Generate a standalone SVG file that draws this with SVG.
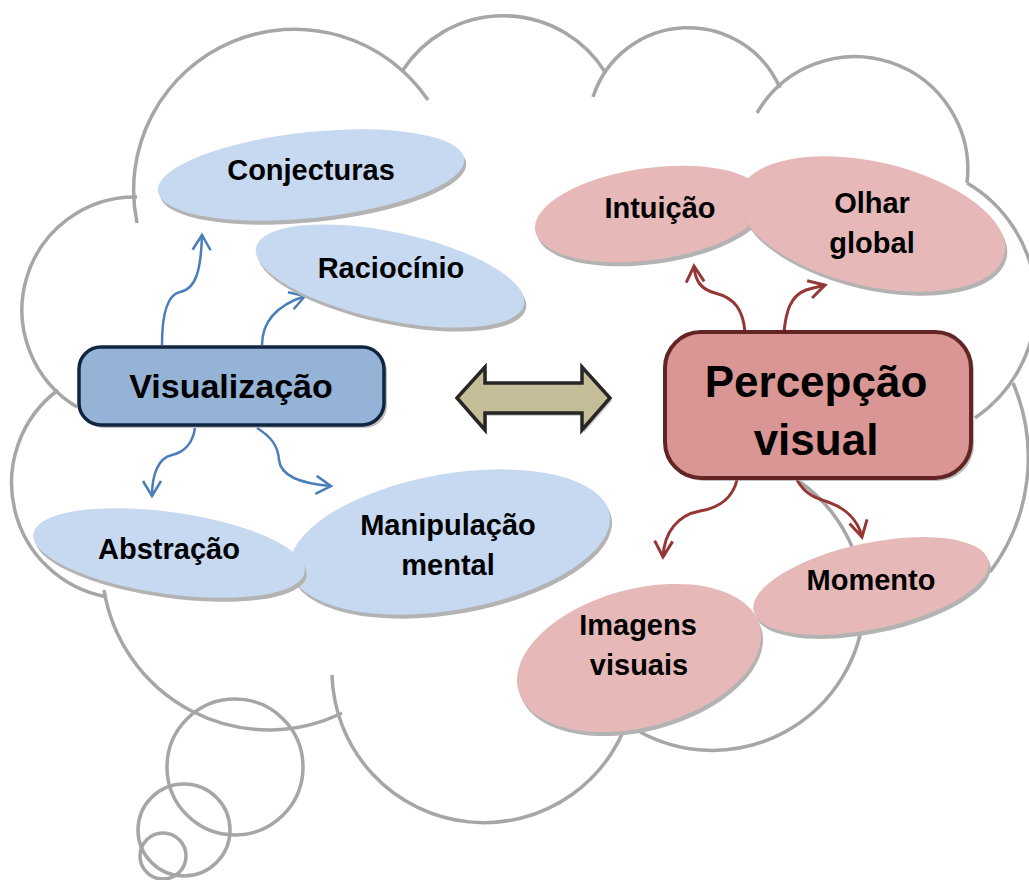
<svg xmlns="http://www.w3.org/2000/svg" width="1029" height="880" viewBox="0 0 1029 880">
<style>
.cloud{fill:none;stroke:#a6a6a6;stroke-width:3.5}
.sh{fill:#b3b3b3}
.be{fill:#c6d9f1}
.re{fill:#e6b9b8}
.t{font-family:"Liberation Sans",Arial,sans-serif;font-weight:bold;fill:#000;text-anchor:middle}
.st{font-size:29px}
.ba{fill:none;stroke:#4a7ebb;stroke-width:2.5}
.ra{fill:none;stroke:#953735;stroke-width:3}
.bsh{fill:#8c8c8c;opacity:0.55}
</style>
<defs>
<marker id="mb" markerUnits="userSpaceOnUse" viewBox="-20 -12 24 24" markerWidth="24" markerHeight="24" refX="0" refY="0" orient="auto"><path d="M-15,-9 L0,0 L-15,9" fill="none" stroke="#4a7ebb" stroke-width="2.5"/></marker>
<marker id="mr" markerUnits="userSpaceOnUse" viewBox="-20 -12 24 24" markerWidth="24" markerHeight="24" refX="0" refY="0" orient="auto"><path d="M-16,-9 L0,0 L-16,9" fill="none" stroke="#953735" stroke-width="3"/></marker>
</defs>
<rect width="1029" height="880" fill="#fff"/>
<g id="cloud">
<path class="cloud" d="M137,223 A161,161 0 0 1 428,100"/>
<path class="cloud" d="M403,70 A120,120 0 0 1 605,72"/>
<path class="cloud" d="M593,97 A100,100 0 0 1 780,88"/>
<path class="cloud" d="M757,113 A113,113 0 0 1 967,183"/>
<path class="cloud" d="M967,183 A139,139 0 0 1 975,418"/>
<path class="cloud" d="M1013,383 A190,190 0 0 1 990,572"/>
<path class="cloud" d="M800,482 A152,152 0 0 1 864,610 A152,152 0 0 1 640,732"/>
<path class="cloud" d="M332,675 A152,152 0 0 0 632,705"/>
<path class="cloud" d="M104,590 A167,167 0 0 0 342,713"/>
<path class="cloud" d="M58,390 A116,116 0 0 0 107,597"/>
<path class="cloud" d="M137,197 A113,113 0 0 0 77,407"/>
<circle class="cloud" cx="235" cy="767" r="68"/>
<circle class="cloud" cx="184" cy="830" r="46"/>
<circle class="cloud" cx="163" cy="856" r="23"/>
</g>
<g id="connectors">
<path class="ba" marker-end="url(#mb)" d="M162,345 C162,318 166,295 180,292 C196,289 201,270 202,235"/>
<path class="ba" marker-end="url(#mb)" d="M262,345 C262,323 275,306 305,296"/>
<path class="ba" marker-end="url(#mb)" d="M195,428 C193,442 185,452 172,455 C158,458 152,475 152,496"/>
<path class="ba" marker-end="url(#mb)" d="M257,428 C270,436 278,445 279,460 C281,478 305,484 331,486"/>
<path class="ra" marker-end="url(#mr)" d="M745,332 C743,310 735,298 715,293 C700,289 695,280 694,266"/>
<path class="ra" marker-end="url(#mr)" d="M784,332 C786,312 790,296 806,290 C812,288 818,287 825,285"/>
<path class="ra" marker-end="url(#mr)" d="M737,480 C732,500 718,508 700,511 C678,515 664,532 663,557"/>
<path class="ra" marker-end="url(#mr)" d="M797,480 C805,494 815,498 828,502 C845,508 858,520 862,537"/>
</g>
<g id="conjecturas">
<ellipse class="sh" rx="154" ry="43" transform="translate(313 179) rotate(-6)"/>
<ellipse class="be" rx="154" ry="43" transform="translate(311 175) rotate(-6)"/>
<text class="t st" x="311" y="180">Conjecturas</text>
</g>
<g id="raciocinio">
<ellipse class="sh" rx="137" ry="44" transform="translate(392 280) rotate(12)"/>
<ellipse class="be" rx="137" ry="44" transform="translate(390 276) rotate(12)"/>
<text class="t st" x="391" y="278">Raciocínio</text>
</g>
<g id="manipulacao">
<ellipse class="sh" rx="162" ry="68" transform="translate(452 546) rotate(-10)"/>
<ellipse class="be" rx="162" ry="68" transform="translate(450 542) rotate(-10)"/>
<text class="t st" x="448" y="535">Manipulação</text>
<text class="t st" x="448" y="575">mental</text>
</g>
<g id="abstracao">
<ellipse class="sh" rx="137" ry="41" transform="translate(171 557) rotate(8)"/>
<ellipse class="be" rx="137" ry="41" transform="translate(169 553) rotate(8)"/>
<text class="t st" x="169" y="559">Abstração</text>
</g>
<g id="intuicao">
<ellipse class="sh" rx="116" ry="46" transform="translate(652 218) rotate(-8)"/>
<ellipse class="re" rx="116" ry="46" transform="translate(650 214) rotate(-8)"/>
<text class="t st" x="660" y="218">Intuição</text>
</g>
<g id="olhar-global">
<ellipse class="sh" rx="136" ry="62" transform="translate(874 228) rotate(13)"/>
<ellipse class="re" rx="136" ry="62" transform="translate(872 224) rotate(13)"/>
<text class="t st" x="872" y="213">Olhar</text>
<text class="t st" x="872" y="253">global</text>
</g>
<g id="imagens-visuais">
<ellipse class="sh" rx="125" ry="69" transform="translate(641 662) rotate(-15)"/>
<ellipse class="re" rx="125" ry="69" transform="translate(639 658) rotate(-15)"/>
<text class="t st" x="638" y="635">Imagens</text>
<text class="t st" x="639" y="675">visuais</text>
</g>
<g id="momento">
<ellipse class="sh" rx="120" ry="43" transform="translate(873 590) rotate(-12)"/>
<ellipse class="re" rx="120" ry="43" transform="translate(871 586) rotate(-12)"/>
<text class="t st" x="871" y="590">Momento</text>
</g>
<g id="visualizacao">
<rect class="bsh" x="82" y="350" width="305" height="78" rx="22"/>
<rect x="79" y="347" width="305" height="78" rx="22" fill="#95b3d7" stroke="#10253f" stroke-width="3.5"/>
<text class="t" x="231" y="398" font-size="34">Visualização</text>
</g>
<g id="double-arrow">
<polygon points="459,401 487,370 487,386 584,386 584,370 612,401 584,433 584,416 487,416 487,433" fill="#8c8c8c" opacity="0.4"/>
<polygon points="457,398 485,367 485,383 582,383 582,367 610,398 582,430 582,413 485,413 485,430" fill="#c4bd97" stroke="#262626" stroke-width="3.5"/>
</g>
<g id="percepcao">
<rect class="bsh" x="668" y="335" width="306" height="146" rx="36"/>
<rect x="665" y="332" width="306" height="146" rx="36" fill="#d99694" stroke="#632523" stroke-width="4"/>
<text class="t" x="816" y="397" font-size="44">Percepção</text>
<text class="t" x="816" y="455" font-size="44">visual</text>
</g>
</svg>
